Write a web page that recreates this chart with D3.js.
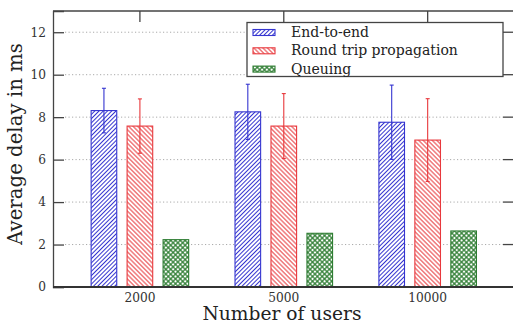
<!DOCTYPE html>
<html><head><meta charset="utf-8">
<script src="https://cdn.jsdelivr.net/npm/d3@7"></script>
<style>body{margin:0;background:#fff}svg{display:block}</style>
</head><body>
<svg id="c" width="513" height="325"></svg>
<script>
const categories = ["2000", "5000", "10000"];
const seriesNames = ["End-to-end", "Round trip propagation", "Queuing"];
const endToEnd = [8.31, 8.25, 7.76];
const endToEndErr = [1.05, 1.30, 1.75];
const roundTrip = [7.58, 7.58, 6.92];
const roundTripErr = [1.28, 1.53, 1.95];
const queuing = [2.23, 2.53, 2.64];
const yTicks = [0, 2, 4, 6, 8, 10, 12];

const colors = ["#3535d0", "#e8383c", "#2e7d32"];
const W = 513, H = 325;
const m = {left: 53, right: -1, top: 11, bottom: 38};
const svg = d3.select("#c");
const x = d3.scaleLinear().domain([0.396, 3.6]).range([m.left, W - m.right]);
const y = d3.scaleLinear().domain([0, 13]).range([H - m.bottom, m.top]);
const ff = "DejaVu Serif, Liberation Serif, serif";

// scale a text's font-size so its width matches a target width
function fit(sel, target) {
  sel.each(function() {
    const t = d3.select(this);
    const fs = parseFloat(t.attr("font-size"));
    const w = this.getComputedTextLength();
    if (w > 0) t.attr("font-size", (fs * target / w).toFixed(2));
  });
}

const defs = svg.append("defs");
function hatch(id, color, angle, size, sw) {
  const p = defs.append("pattern").attr("id", id).attr("patternUnits", "userSpaceOnUse")
    .attr("width", size).attr("height", size).attr("patternTransform", `rotate(${angle})`);
  p.append("rect").attr("width", size).attr("height", size).attr("fill", "#fff");
  p.append("line").attr("x1", size/2).attr("x2", size/2).attr("y1", 0).attr("y2", size)
    .attr("stroke", color).attr("stroke-width", sw);
}
hatch("pBlue", colors[0], 45, 3.0, 1.0);
hatch("pRed", colors[1], -45, 3.2, 1.0);
{
  const s = 3.4;
  const p = defs.append("pattern").attr("id", "pGreen").attr("patternUnits", "userSpaceOnUse")
    .attr("width", s).attr("height", s).attr("patternTransform", "rotate(45)");
  p.append("rect").attr("width", s).attr("height", s).attr("fill", "#fff");
  p.append("line").attr("x1", 0).attr("x2", s).attr("y1", s/2).attr("y2", s/2).attr("stroke", colors[2]).attr("stroke-width", 1.25);
  p.append("line").attr("x1", s/2).attr("x2", s/2).attr("y1", 0).attr("y2", s).attr("stroke", colors[2]).attr("stroke-width", 1.25);
}
const fills = ["url(#pBlue)", "url(#pRed)", "url(#pGreen)"];

// grid
svg.append("g").selectAll("line").data(yTicks.filter(d => d > 0)).join("line")
  .attr("x1", m.left + 12).attr("x2", 503)
  .attr("y1", d => y(d)).attr("y2", d => y(d))
  .attr("stroke", "#aaa").attr("stroke-width", 1).attr("stroke-dasharray", "1.2,2.3");

// frame top line
svg.append("line").attr("x1", m.left).attr("x2", W).attr("y1", y(13)).attr("y2", y(13))
  .attr("stroke", "#444").attr("stroke-width", 1.3);
// left axis
const yAxis = d3.axisLeft(y).tickValues(yTicks).tickSize(-11).tickPadding(7).tickFormat(d3.format("d"));
const gy = svg.append("g").attr("transform", `translate(${m.left},0)`).call(yAxis);
gy.attr("font-family", null);
gy.select(".domain").attr("stroke", "#444").attr("stroke-width", 1.3);
gy.selectAll(".tick line").attr("stroke", "#444").attr("stroke-width", 1.3);
gy.selectAll(".tick text").attr("font-family", ff).attr("font-size", 12.5).attr("fill", "#333");
// right ticks
svg.append("g").selectAll("line").data(yTicks.filter(d => d > 0)).join("line")
  .attr("x1", 503).attr("x2", W).attr("y1", d => y(d)).attr("y2", d => y(d))
  .attr("stroke", "#444").attr("stroke-width", 1.3);
// top ticks
svg.append("g").selectAll("line").data(categories).join("line")
  .attr("x1", (d, i) => x(i + 1)).attr("x2", (d, i) => x(i + 1))
  .attr("y1", y(13)).attr("y2", y(13) + 11)
  .attr("stroke", "#444").attr("stroke-width", 1.3);

// bars
const series = [endToEnd, roundTrip, queuing];
const errs = [endToEndErr, roundTripErr, null];
const offs = [-0.25, 0, 0.25];
const bw = 0.178;
series.forEach((vals, s) => {
  svg.append("g").selectAll("rect").data(vals).join("rect")
    .attr("x", (d, i) => x(i + 1 + offs[s] - bw/2))
    .attr("width", x(bw) - x(0))
    .attr("y", d => y(d)).attr("height", d => y(0) - y(d))
    .attr("fill", fills[s]).attr("stroke", colors[s]).attr("stroke-width", 1.1);
});
// error bars
errs.forEach((e, s) => {
  if (!e) return;
  const g = svg.append("g").attr("stroke", colors[s]).attr("stroke-width", 1.1);
  series[s].forEach((v, i) => {
    const cx = x(i + 1 + offs[s]);
    g.append("line").attr("x1", cx).attr("x2", cx).attr("y1", y(v - e[i])).attr("y2", y(v + e[i]));
    g.append("line").attr("x1", cx - 2).attr("x2", cx + 2).attr("y1", y(v + e[i])).attr("y2", y(v + e[i]));
    g.append("line").attr("x1", cx - 2).attr("x2", cx + 2).attr("y1", y(v - e[i])).attr("y2", y(v - e[i]));
  });
});

// bottom axis
svg.append("line").attr("x1", m.left).attr("x2", W).attr("y1", y(0)).attr("y2", y(0))
  .attr("stroke", "#333").attr("stroke-width", 1.8);
const xl = svg.append("g").selectAll("text").data(categories).join("text")
  .attr("x", (d, i) => x(i + 1)).attr("y", y(0) + 14.5)
  .attr("text-anchor", "middle").attr("font-family", ff).attr("font-size", 12.5).attr("fill", "#333")
  .text(d => d);
fit(xl.filter(d => d === "2000"), 31);
xl.attr("font-size", xl.filter(d => d === "2000").attr("font-size"));
gy.selectAll(".tick text").attr("font-size", xl.filter(d => d === "2000").attr("font-size"));

// axis titles
const xt = svg.append("text").attr("x", 282).attr("y", 320)
  .attr("text-anchor", "middle").attr("font-family", ff).attr("font-size", 18).attr("fill", "#222")
  .text("Number of users");
fit(xt, 159);
const yt = svg.append("text").attr("transform", `translate(22,144) rotate(-90)`)
  .attr("text-anchor", "middle").attr("font-family", ff).attr("font-size", 18).attr("fill", "#222")
  .text("Average delay in ms");
fit(yt, 202);

// legend
const lg = svg.append("g");
lg.append("rect").attr("x", 247).attr("y", 22.5).attr("width", 256).attr("height", 54)
  .attr("fill", "#fff").attr("stroke", "#444").attr("stroke-width", 1.3);
const lt = [];
seriesNames.forEach((n, i) => {
  const cy = 32.5 + i * 18.3;
  lg.append("rect").attr("x", 253).attr("y", cy - 3).attr("width", 22).attr("height", 6)
    .attr("fill", fills[i]).attr("stroke", colors[i]).attr("stroke-width", 1.1);
  lt.push(lg.append("text").attr("x", 291).attr("y", cy + 4.5).attr("font-family", ff).attr("font-size", 13)
    .attr("fill", "#222").text(n));
});
fit(lt[1], 167);
lt.forEach(t => t.attr("font-size", lt[1].attr("font-size")));
</script>
</body></html>
